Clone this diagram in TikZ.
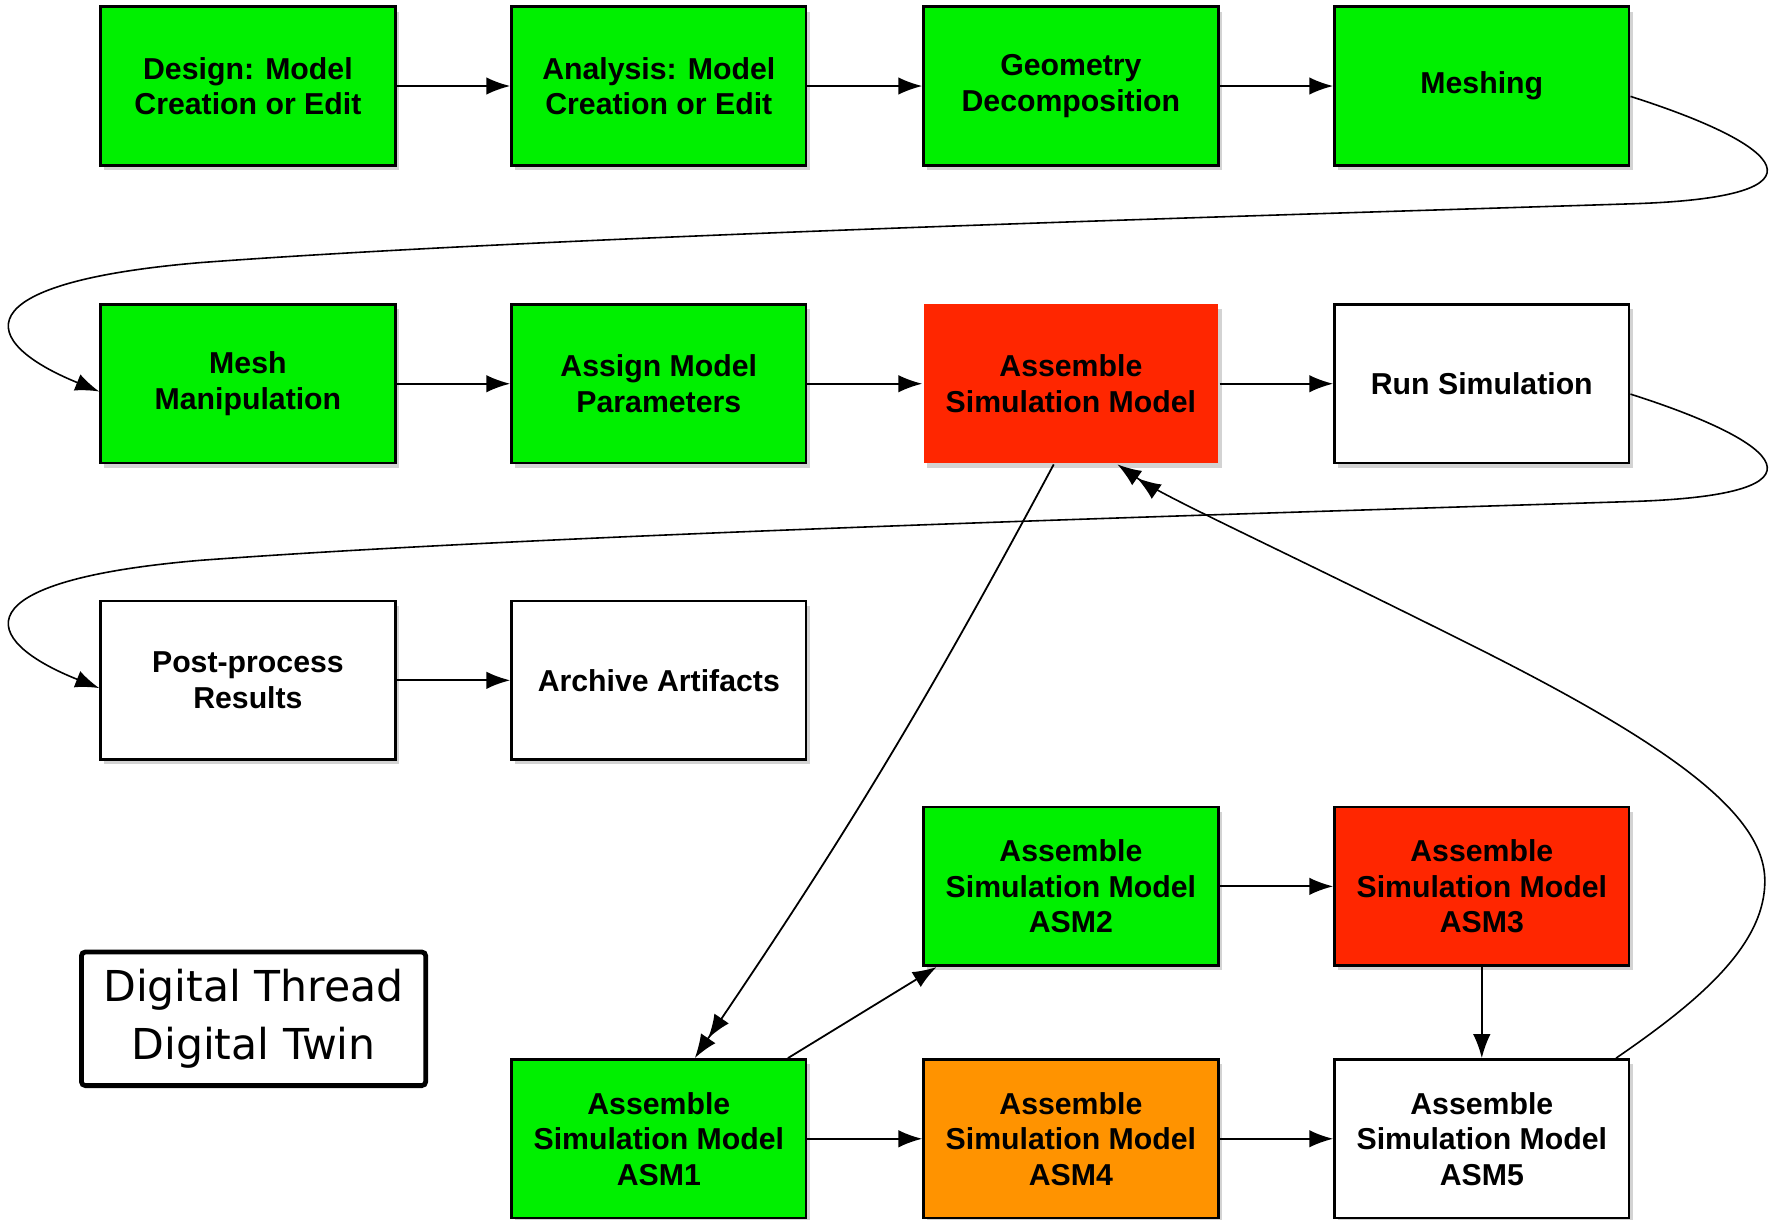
\documentclass[tikz,border=0pt]{standalone}
\usepackage{fontspec}
\setmainfont{Liberation Sans}
\newfontfamily\dtfont{DejaVu Sans}
\usepackage{tikz}
\usetikzlibrary{arrows.meta,shadows}
\definecolor{boxgreen}{RGB}{0,240,0}
\definecolor{boxred}{RGB}{255,38,0}
\definecolor{boxorange}{RGB}{255,147,0}

\begin{document}
\begin{tikzpicture}[x=0.01cm,y=-0.01cm,line width=0.45pt,
  >={Latex[length=6pt,width=4.4pt]},
  box/.style={draw,line width=0.7pt,minimum width=2.6cm,minimum height=1.4cm,
    inner sep=0pt,align=center,font=\fontsize{7.6}{8.9}\selectfont\bfseries,
    drop shadow={shadow xshift=0.9pt,shadow yshift=-1.2pt,opacity=0.35}},
  gbox/.style={box,fill=boxgreen},
  rbox/.style={box,fill=boxred},
  obox/.style={box,fill=boxorange},
  wbox/.style={box,fill=white}]
\useasboundingbox (0,0) rectangle (1568,1077);

\node[gbox] (1) at (219,76) {Design: Model\\Creation or Edit};
\node[gbox] (2) at (582,76) {Analysis: Model\\Creation or Edit};
\node[gbox] (3) at (946,76) {Geometry\\Decomposition};
\node[gbox] (4) at (1309,76) {Meshing};
\node[gbox] (5) at (219,339) {Mesh\\Manipulation};
\node[gbox] (6) at (582,339) {Assign Model\\Parameters};
\node[rbox,draw=none] (7) at (946,339) {Assemble\\Simulation Model};
\node[wbox] (8) at (1309,339) {Run Simulation};
\node[wbox] (9) at (219,601) {Post-process\\Results};
\node[wbox] (10) at (582,601) {Archive Artifacts};
\node[gbox] (11) at (946,783) {Assemble\\Simulation Model\\ASM2};
\node[rbox] (12) at (1309,783) {Assemble\\Simulation Model\\ASM3};
\node[gbox] (13) at (582,1006) {Assemble\\Simulation Model\\ASM1};
\node[obox] (14) at (946,1006) {Assemble\\Simulation Model\\ASM4};
\node[wbox] (15) at (1309,1006) {Assemble\\Simulation Model\\ASM5};
\node[draw,line width=1.2pt,rounded corners=1pt,minimum width=3.04cm,minimum height=1.18cm,
  align=center,font=\dtfont\fontsize{10.7}{14.5}\selectfont] (16) at (224,900) {Digital Thread\\Digital Twin};

\draw[->] (1) -- (2);
\draw[->] (2) -- (3);
\draw[->] (3) -- (4);
\draw[->] (5) -- (6);
\draw[->] (6) -- (7);
\draw[->] (7) -- (8);
\draw[->] (9) -- (10);

\draw[->,line width=0.4pt] (4.356) .. controls (1575,128) and (1625,174) .. (1443,180)
  .. controls (1100,191) and (500,208) .. (177,232)
  .. controls (-35,250) and (-20,302) .. (5.183);
\draw[->,line width=0.4pt] (8.356) .. controls (1575,391) and (1625,437) .. (1443,443)
  .. controls (1100,454) and (500,471) .. (177,495)
  .. controls (-35,513) and (-20,565) .. (9.183);

\draw[->>] (7.258) to[bend left=3] (13.66);
\draw[->] (13.32) -- (11.211);
\draw[->] (13) -- (14);
\draw[->] (11) -- (12);
\draw[->] (12) -- (15);
\draw[->] (14) -- (15);
\draw[->>,line width=0.4pt] (15.31) .. controls (1500,885) and (1560,835) .. (1559,777)
  .. controls (1558,720) and (1480,660) .. (1300,570)
  .. controls (1120,480) and (1030,440) .. (7.300);

\end{tikzpicture}
\end{document}
